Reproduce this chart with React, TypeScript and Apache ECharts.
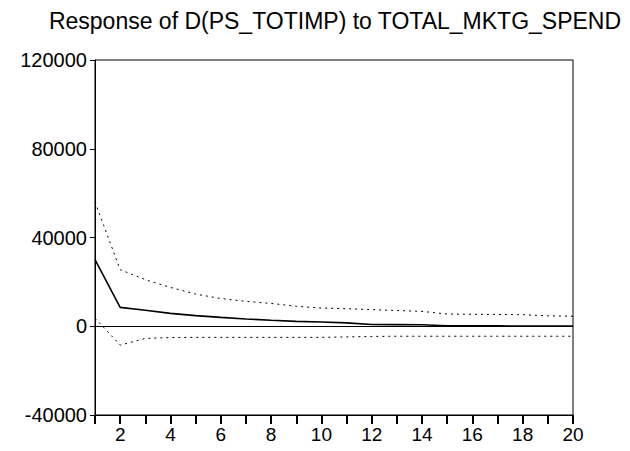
import React, { useEffect, useRef } from "react";
import * as echarts from "echarts";

const periods = [1, 2, 3, 4, 5, 6, 7, 8, 9, 10, 11, 12, 13, 14, 15, 16, 17, 18, 19, 20];
const response = [30000, 8500, 7200, 5800, 4800, 4000, 3300, 2700, 2200, 1900, 1500, 800, 750, 700, 200, 150, 150, 120, 100, 100];
const upperBand = [56000, 25500, 21000, 17500, 14500, 12500, 11200, 10300, 9000, 8200, 7900, 7500, 7100, 6700, 5500, 5400, 5300, 5200, 4700, 4500];
const lowerBand = [3700, -8500, -5500, -5100, -5000, -5000, -5000, -5000, -5000, -5000, -4800, -4600, -4500, -4500, -4500, -4500, -4500, -4500, -4500, -4500];
const yTicks = [-40000, 0, 40000, 80000, 120000];
const titleText = "Response of D(PS_TOTIMP) to TOTAL_MKTG_SPEND";

export default function App() {
  const ref = useRef<HTMLDivElement>(null);
  useEffect(() => {
    if (!ref.current) return;
    const chart = echarts.init(ref.current, null, { renderer: "svg" });
    const font = "Liberation Sans";
    chart.setOption({
      animation: false,
      backgroundColor: "#ffffff",
      title: {
        text: titleText,
        left: 330,
        textAlign: "center",
        top: 4,
        textStyle: { fontFamily: font, fontSize: 23, fontWeight: "normal", color: "#000" },
      },
      grid: {
        left: 95,
        right: 57,
        top: 60,
        bottom: 36,
        show: true,
        borderColor: "#000",
        borderWidth: 1,
        backgroundColor: "transparent",
      },
      xAxis: {
        type: "value",
        min: 1,
        max: 20,
        interval: 1,
        axisLine: { show: true, onZero: false, lineStyle: { color: "#000", width: 1 } },
        axisTick: { show: true, length: 9, inside: false, lineStyle: { color: "#000", width: 2 } },
        splitLine: { show: false },
        axisLabel: {
          fontFamily: font,
          fontSize: 19,
          color: "#000",
          margin: 10,
          formatter: (v: number) => (v % 2 === 0 ? String(v) : ""),
        },
      },
      yAxis: {
        type: "value",
        min: yTicks[0],
        max: yTicks[yTicks.length - 1],
        interval: 40000,
        axisLine: { show: true, lineStyle: { color: "#000", width: 1 } },
        axisTick: { show: true, length: 5, lineStyle: { color: "#000" } },
        splitLine: { show: false },
        axisLabel: {
          fontFamily: font,
          fontSize: 20,
          color: "#000",
          margin: 8,
          formatter: (v: number) => String(v),
        },
      },
      series: [
        {
          type: "line",
          data: periods.map((p, i) => [p, response[i]]),
          symbol: "none",
          lineStyle: { color: "#000", width: 1.6 },
          markLine: {
            silent: true,
            symbol: "none",
            label: { show: false },
            lineStyle: { color: "#000", width: 1, type: "solid" },
            data: [{ yAxis: 0 }],
          },
        },
        {
          type: "line",
          data: periods.map((p, i) => [p, upperBand[i]]),
          symbol: "none",
          lineStyle: { color: "#000", width: 1, type: [2, 4] },
        },
        {
          type: "line",
          data: periods.map((p, i) => [p, lowerBand[i]]),
          symbol: "none",
          lineStyle: { color: "#000", width: 1, type: [2, 4] },
        },
      ],
    });
    return () => chart.dispose();
  }, []);
  return <div ref={ref} style={{ width: 630, height: 451, position: "absolute", left: 0, top: 0 }} />;
}
